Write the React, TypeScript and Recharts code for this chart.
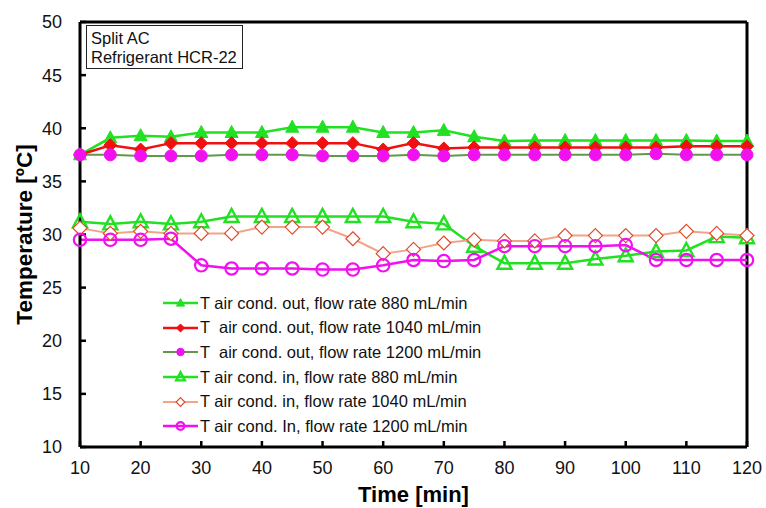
import React from 'react';
import { LineChart, Line, XAxis, YAxis, Legend, ReferenceLine } from 'recharts';

const times = [10, 15, 20, 25, 30, 35, 40, 45, 50, 55, 60, 65, 70, 75, 80, 85, 90, 95, 100, 105, 110, 115, 120];

const outFlow880 = [37.5, 39.1, 39.3, 39.2, 39.6, 39.6, 39.6, 40.1, 40.1, 40.1, 39.6, 39.6, 39.8, 39.2, 38.8, 38.85, 38.85, 38.85, 38.85, 38.85, 38.85, 38.8, 38.8];
const outFlow1040 = [37.5, 38.4, 38.0, 38.6, 38.6, 38.6, 38.6, 38.6, 38.6, 38.6, 38.0, 38.6, 38.1, 38.2, 38.2, 38.2, 38.2, 38.2, 38.2, 38.2, 38.3, 38.3, 38.3];
const outFlow1200 = [37.5, 37.5, 37.4, 37.4, 37.4, 37.5, 37.5, 37.5, 37.4, 37.4, 37.4, 37.5, 37.4, 37.5, 37.5, 37.5, 37.5, 37.5, 37.5, 37.6, 37.5, 37.5, 37.5];
const inFlow880 = [31.2, 31.0, 31.2, 31.0, 31.2, 31.7, 31.7, 31.7, 31.7, 31.7, 31.7, 31.2, 31.0, 28.9, 27.3, 27.3, 27.3, 27.7, 28.0, 28.4, 28.5, 29.8, 29.7];
const inFlow1040 = [30.6, 30.1, 30.3, 30.1, 30.1, 30.1, 30.7, 30.7, 30.7, 29.6, 28.2, 28.6, 29.2, 29.5, 29.4, 29.4, 29.9, 29.9, 29.9, 29.9, 30.3, 30.1, 29.9];
const inFlow1200 = [29.5, 29.5, 29.5, 29.6, 27.1, 26.8, 26.8, 26.8, 26.7, 26.7, 27.1, 27.6, 27.5, 27.6, 28.9, 28.9, 28.9, 28.9, 29.0, 27.6, 27.6, 27.6, 27.6];

const xTicks = [10, 20, 30, 40, 50, 60, 70, 80, 90, 100, 110, 120];
const yTicks = [10, 15, 20, 25, 30, 35, 40, 45, 50];

const seriesNames = [
  'T air cond. out, flow rate 880 mL/min',
  'T  air cond. out, flow rate 1040 mL/min',
  'T  air cond. out, flow rate 1200 mL/min',
  'T air cond. in, flow rate 880 mL/min',
  'T air cond. in, flow rate 1040 mL/min',
  'T air cond. In, flow rate 1200 mL/min',
];

const data = times.map((t, i) => ({
  time: t,
  out880: outFlow880[i],
  out1040: outFlow1040[i],
  out1200: outFlow1200[i],
  in880: inFlow880[i],
  in1040: inFlow1040[i],
  in1200: inFlow1200[i],
}));

const FONT = '"Liberation Sans", Arial, sans-serif';
const GREEN = '#22e022';
const RED = '#f01010';
const MAGENTA = '#f010f0';
const OLIVE = '#5e9a48';
const SALMON_LINE = '#f2a488';
const SALMON_MARK = '#e04a2a';

type Kind = 'triFill' | 'diaFill' | 'circFill' | 'triOpen' | 'diaOpen' | 'circOpen';

const Marker = ({ kind, x, y, s = 1 }: { kind: Kind; x: number; y: number; s?: number }) => {
  switch (kind) {
    case 'triFill':
      return <polygon points={`${x},${y - 7 * s} ${x - 6.5 * s},${y + 5 * s} ${x + 6.5 * s},${y + 5 * s}`} fill={GREEN} stroke={GREEN} strokeWidth={1} />;
    case 'diaFill':
      return <polygon points={`${x},${y - 6.5 * s} ${x + 6.5 * s},${y} ${x},${y + 6.5 * s} ${x - 6.5 * s},${y}`} fill={RED} stroke={RED} strokeWidth={1} />;
    case 'circFill':
      return <circle cx={x} cy={y} r={6 * s} fill={MAGENTA} stroke={MAGENTA} strokeWidth={1} />;
    case 'triOpen':
      return <polygon points={`${x},${y - 7.5 * s} ${x - 7 * s},${y + 5.5 * s} ${x + 7 * s},${y + 5.5 * s}`} fill="none" stroke={GREEN} strokeWidth={2.4} />;
    case 'diaOpen':
      return <polygon points={`${x},${y - 7 * s} ${x + 7 * s},${y} ${x},${y + 7 * s} ${x - 7 * s},${y}`} fill="#fff" stroke={SALMON_MARK} strokeWidth={1.2} />;
    case 'circOpen':
      return <circle cx={x} cy={y} r={6.2 * s} fill="none" stroke={MAGENTA} strokeWidth={2.2} />;
    default:
      return null;
  }
};

const makeDot = (kind: Kind) => (props: any) => {
  const { cx, cy, index } = props;
  if (cx == null || cy == null) return <g key={`${kind}-${index}`} />;
  return (
    <g key={`${kind}-${index}`}>
      <Marker kind={kind} x={cx} y={cy} />
    </g>
  );
};

const legendRows: { name: string; line: string; kind: Kind; width: number }[] = [
  { name: seriesNames[0], line: GREEN, kind: 'triFill', width: 2.5 },
  { name: seriesNames[1], line: RED, kind: 'diaFill', width: 2.5 },
  { name: seriesNames[2], line: OLIVE, kind: 'circFill', width: 2 },
  { name: seriesNames[3], line: GREEN, kind: 'triOpen', width: 2.5 },
  { name: seriesNames[4], line: SALMON_LINE, kind: 'diaOpen', width: 2 },
  { name: seriesNames[5], line: MAGENTA, kind: 'circOpen', width: 2.5 },
];

const LegendContent = () => (
  <div style={{ fontFamily: FONT, fontSize: 16.5, color: '#111' }}>
    {legendRows.map((row) => (
      <div key={row.name} style={{ display: 'flex', alignItems: 'center', height: 24.6, whiteSpace: 'pre' }}>
        <svg width={37} height={20} style={{ display: 'block' }}>
          <line x1={1} x2={36} y1={10} y2={10} stroke={row.line} strokeWidth={row.width} />
          <Marker kind={row.kind} x={18.5} y={10} s={0.62} />
        </svg>
        <span style={{ marginLeft: 1 }}>{row.name}</span>
      </div>
    ))}
  </div>
);

const tickStyle = { fontFamily: FONT, fontSize: 18, fill: '#111' };

export default function App() {
  return (
    <div style={{ position: 'absolute', left: 0, top: 0, width: 766, height: 508, background: '#fff' }}>
      <LineChart width={766} height={508} data={data} margin={{ top: 22, right: 19, bottom: 0, left: 0 }}>
        <XAxis
          dataKey="time"
          type="number"
          domain={[10, 120]}
          ticks={xTicks}
          height={61}
          tick={tickStyle}
          tickSize={-6}
          tickMargin={20}
          axisLine={{ stroke: '#000', strokeWidth: 3 }}
          tickLine={{ stroke: '#000', strokeWidth: 2.5 }}
          label={{ value: 'Time [min]', position: 'center', dy: 17, style: { fontFamily: FONT, fontSize: 22, fontWeight: 'bold', fill: '#000' } }}
        />
        <YAxis
          type="number"
          domain={[10, 50]}
          ticks={yTicks}
          width={80}
          tick={tickStyle}
          tickSize={-6}
          tickMargin={24}
          axisLine={{ stroke: '#000', strokeWidth: 3 }}
          tickLine={{ stroke: '#000', strokeWidth: 2.5 }}
          label={{ value: 'Temperature [ºC]', angle: -90, position: 'center', dx: -16, style: { fontFamily: FONT, fontSize: 22.5, fontWeight: 'bold', fill: '#000', textAnchor: 'middle' } }}
        />
        <ReferenceLine y={50} stroke="#000" strokeWidth={3} />
        <ReferenceLine x={120} stroke="#000" strokeWidth={3} />
        <Legend
          layout="vertical"
          align="center"
          verticalAlign="middle"
          content={<LegendContent />}
          wrapperStyle={{ left: 162, top: 291, width: 'auto' }}
        />
        <Line dataKey="out880" name={seriesNames[0]} stroke={GREEN} strokeWidth={2.5} dot={makeDot('triFill')} isAnimationActive={false} />
        <Line dataKey="out1040" name={seriesNames[1]} stroke={RED} strokeWidth={2.5} dot={makeDot('diaFill')} isAnimationActive={false} />
        <Line dataKey="out1200" name={seriesNames[2]} stroke={OLIVE} strokeWidth={2} dot={makeDot('circFill')} isAnimationActive={false} />
        <Line dataKey="in880" name={seriesNames[3]} stroke={GREEN} strokeWidth={2.5} dot={makeDot('triOpen')} isAnimationActive={false} />
        <Line dataKey="in1040" name={seriesNames[4]} stroke={SALMON_LINE} strokeWidth={2} dot={makeDot('diaOpen')} isAnimationActive={false} />
        <Line dataKey="in1200" name={seriesNames[5]} stroke={MAGENTA} strokeWidth={2.5} dot={makeDot('circOpen')} isAnimationActive={false} />
      </LineChart>
      <div
        style={{
          position: 'absolute',
          left: 86,
          top: 25,
          width: 157,
          height: 44,
          boxSizing: 'border-box',
          border: '1px solid #222',
          padding: '3px 0 0 4px',
          fontFamily: FONT,
          fontSize: 16.5,
          lineHeight: '19px',
          color: '#111',
          background: '#fff',
        }}
      >
        <div>Split AC</div>
        <div>Refrigerant HCR-22</div>
      </div>
    </div>
  );
}
